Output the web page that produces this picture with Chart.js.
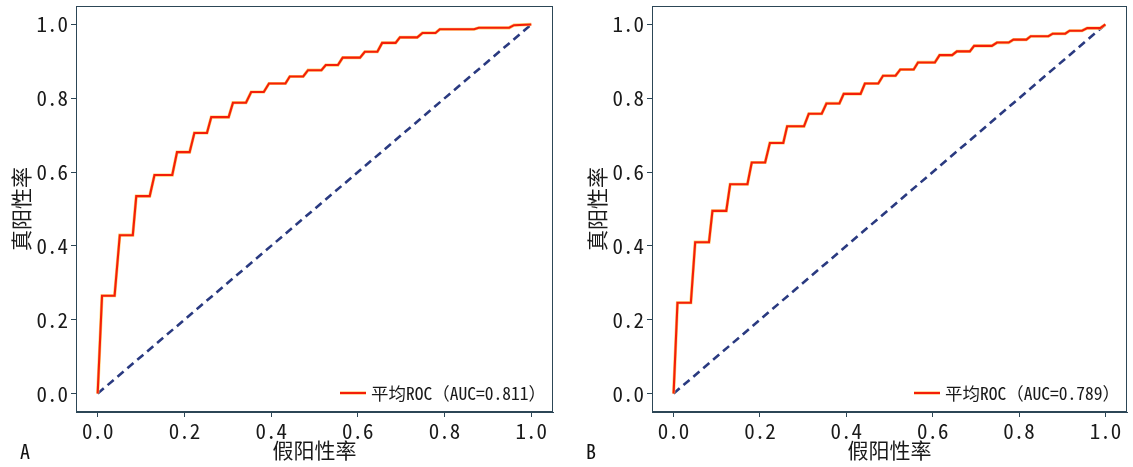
<!DOCTYPE html>
<html>
<head>
<meta charset="utf-8">
<script src="https://cdn.jsdelivr.net/npm/chart.js@4.4.1/dist/chart.umd.min.js"></script>
<style>
  html, body { margin: 0; padding: 0; background: #fff; }
  #wrap { position: relative; width: 1133px; height: 467px; overflow: hidden; }
  canvas { position: absolute; top: 0; }
  .panel { position: absolute; font-family: "Noto Sans Mono CJK SC", "Noto Sans CJK SC", sans-serif; font-size: 20px; color: #111; line-height: 1; }
</style>
</head>
<body>
<div id="wrap">
  <canvas id="cA" width="566" height="467" style="left:0px"></canvas>
  <canvas id="cB" width="567" height="467" style="left:566px"></canvas>
  <div class="panel" style="left:20px; top:441px;">A</div>
  <div class="panel" style="left:586px; top:441px;">B</div>
</div>
<script>
// ---- data ----
const tickValues = [0.0, 0.2, 0.4, 0.6, 0.8, 1.0];
const xTitle = "假阳性率";
const yTitle = "真阳性率";
const diagX = [0, 1];
const diagY = [0, 1];

const labelA = "平均ROC（AUC=0.811）";
const fprA = [0, 0.010, 0.039, 0.051, 0.081, 0.089, 0.120, 0.131, 0.172, 0.183, 0.212, 0.223, 0.252, 0.262, 0.302, 0.312, 0.342, 0.354, 0.383, 0.395, 0.433, 0.443, 0.474, 0.485, 0.516, 0.526, 0.554, 0.565, 0.605, 0.616, 0.645, 0.656, 0.687, 0.697, 0.737, 0.749, 0.779, 0.789, 0.868, 0.879, 0.949, 0.960, 1.0];
const tprA = [0, 0.265, 0.265, 0.429, 0.429, 0.535, 0.535, 0.592, 0.592, 0.654, 0.654, 0.706, 0.706, 0.749, 0.749, 0.788, 0.788, 0.817, 0.817, 0.840, 0.840, 0.859, 0.859, 0.876, 0.876, 0.890, 0.890, 0.910, 0.910, 0.926, 0.926, 0.950, 0.950, 0.965, 0.965, 0.977, 0.977, 0.987, 0.987, 0.991, 0.991, 0.998, 1.0];

const labelB = "平均ROC（AUC=0.789）";
const fprB = [0, 0.009, 0.040, 0.050, 0.082, 0.090, 0.122, 0.131, 0.171, 0.181, 0.212, 0.223, 0.254, 0.263, 0.302, 0.313, 0.343, 0.354, 0.384, 0.394, 0.433, 0.443, 0.474, 0.485, 0.514, 0.525, 0.556, 0.566, 0.605, 0.616, 0.645, 0.656, 0.686, 0.696, 0.737, 0.749, 0.776, 0.787, 0.817, 0.827, 0.868, 0.878, 0.907, 0.917, 0.946, 0.958, 0.988, 1.0];
const tprB = [0, 0.246, 0.246, 0.410, 0.410, 0.495, 0.495, 0.567, 0.567, 0.626, 0.626, 0.679, 0.679, 0.724, 0.724, 0.758, 0.758, 0.786, 0.786, 0.812, 0.812, 0.840, 0.840, 0.861, 0.861, 0.878, 0.878, 0.897, 0.897, 0.917, 0.917, 0.927, 0.927, 0.942, 0.942, 0.951, 0.951, 0.959, 0.959, 0.968, 0.968, 0.975, 0.975, 0.983, 0.983, 0.990, 0.990, 1.0];

// ---- styling ----
const MONO = '"Noto Sans Mono CJK SC", "Liberation Mono", monospace';
const CJK = '"Noto Sans CJK SC", sans-serif';
const SPINE = '#2c4656';
const RED = '#f41e08';
const HALO = '#ffcf70';
const NAVY = '#2a3a80';

function pts(xs, ys) { return xs.map((x, i) => ({ x: x, y: ys[i] })); }

const frame = {
  id: 'frame',
  afterDraw(chart) {
    const { ctx, chartArea: a } = chart;
    ctx.save();
    ctx.strokeStyle = SPINE;
    ctx.lineWidth = 1;
    ctx.strokeRect(Math.round(a.left) + 0.5, Math.round(a.top) + 0.5, Math.round(a.right - a.left) - 1, Math.round(a.bottom - a.top) - 1);
    ctx.restore();
  }
};

const legendIn = {
  id: 'legendIn',
  afterDraw(chart) {
    const { ctx, chartArea: a } = chart;
    const ds = chart.data.datasets[0];
    ctx.save();
    ctx.font = '17.5px ' + MONO;
    ctx.textBaseline = 'middle';
    ctx.textAlign = 'right';
    const y = a.bottom - 19;
    const xr = a.right - 7;
    const w = ctx.measureText(ds.label).width;
    ctx.fillStyle = '#1a1a1a';
    ctx.fillText(ds.label, xr, y);
    const x1 = xr - w - 5;
    ctx.lineCap = 'butt';
    ctx.strokeStyle = HALO; ctx.lineWidth = 3.2;
    ctx.beginPath(); ctx.moveTo(x1 - 26, y); ctx.lineTo(x1, y); ctx.stroke();
    ctx.strokeStyle = RED; ctx.lineWidth = 2.1;
    ctx.beginPath(); ctx.moveTo(x1 - 26, y); ctx.lineTo(x1, y); ctx.stroke();
    ctx.restore();
  }
};

function makeChart(id, xs, ys, label, padLeft, padRight) {
  const yWidth = 76;
  const xHeight = 53;
  return new Chart(document.getElementById(id), {
    type: 'line',
    data: {
      datasets: [
        { label: label, data: pts(xs, ys), borderColor: RED, borderWidth: 2.1, pointRadius: 0, tension: 0, fill: false },
        { label: '_halo', data: pts(xs, ys), borderColor: HALO, borderWidth: 3.2, pointRadius: 0, tension: 0, fill: false },
        { label: '_diag', data: pts(diagX, diagY), borderColor: NAVY, borderWidth: 2.6, borderDash: [8, 5], pointRadius: 0, tension: 0, fill: false }
      ]
    },
    options: {
      responsive: false,
      animation: false,
      devicePixelRatio: 1,
      layout: { padding: { left: padLeft, right: padRight, top: 6, bottom: 2 } },
      plugins: { legend: { display: false }, tooltip: { enabled: false } },
      scales: {
        x: {
          type: 'linear', min: -0.05, max: 1.05,
          afterBuildTicks: s => { s.ticks = tickValues.map(v => ({ value: v })); },
          afterFit: s => { s.height = xHeight; s.paddingLeft = 0; s.paddingRight = 0; },
          ticks: { callback: v => v.toFixed(1), font: { family: MONO, size: 21 }, color: '#1a1a1a', padding: 1, maxRotation: 0, autoSkip: false },
          grid: { drawOnChartArea: false, drawTicks: true, tickLength: 5, tickColor: SPINE },
          border: { display: true, color: SPINE, width: 1 },
          title: { display: true, text: xTitle, font: { family: CJK, size: 21 }, color: '#1a1a1a', padding: { top: 0, bottom: 2 } }
        },
        y: {
          type: 'linear', min: -0.05, max: 1.05,
          afterBuildTicks: s => { s.ticks = tickValues.map(v => ({ value: v })); },
          afterFit: s => { s.width = yWidth; s.paddingTop = 0; s.paddingBottom = 0; },
          ticks: { callback: v => v.toFixed(1), font: { family: MONO, size: 21 }, color: '#1a1a1a', padding: 3, autoSkip: false },
          grid: { drawOnChartArea: false, drawTicks: true, tickLength: 5, tickColor: SPINE },
          border: { display: true, color: SPINE, width: 1 },
          title: { display: true, text: yTitle, font: { family: CJK, size: 21 }, color: '#1a1a1a', padding: { top: 8, bottom: 0 } }
        }
      }
    },
    plugins: [frame, legendIn]
  });
}

function build() {
  makeChart('cA', fprA, tprA, labelA, 0, 13);
  makeChart('cB', fprB, tprB, labelB, 10, 6);
}

const loads = [
  document.fonts.load('20px "Noto Sans Mono CJK SC"', '0.1假'),
  document.fonts.load('21px "Noto Sans CJK SC"', '假阳性率'),
  document.fonts.load('20px "Liberation Mono"', '0.1')
];
Promise.all(loads).then(build, build);
</script>
</body>
</html>
